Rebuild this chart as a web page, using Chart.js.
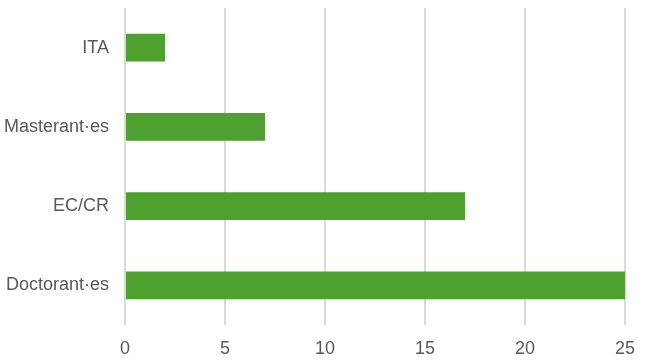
<!DOCTYPE html>
<html>
<head>
<meta charset="utf-8">
<script src="https://cdn.jsdelivr.net/npm/chart.js@4/dist/chart.umd.min.js"></script>
<style>
  html, body { margin: 0; padding: 0; background: #fff; }
  #wrap { width: 647px; height: 361px; }
</style>
</head>
<body>
<div id="wrap"><canvas id="chart"></canvas></div>
<script>
const categories = ['ITA', 'Masterant·es', 'EC/CR', 'Doctorant·es'];
const counts = [2, 7, 17, 25];
const xTicks = [0, 5, 10, 15, 20, 25];

Chart.defaults.animation = false;
Chart.defaults.font.family = '"Liberation Sans", Arial, sans-serif';
Chart.defaults.font.size = 18;
Chart.defaults.color = '#595959';

new Chart(document.getElementById('chart'), {
    type: 'bar',
    data: {
        labels: categories,
        datasets: [{
            data: counts,
            backgroundColor: '#4ea12f',
            borderWidth: 0,
            categoryPercentage: 1,
            barPercentage: 0.35
        }]
    },
    options: {
        indexAxis: 'y',
        responsive: true,
        maintainAspectRatio: false,
        layout: { padding: { top: 8, right: 22, left: 0, bottom: 0 } },
        plugins: { legend: { display: false }, tooltip: { enabled: false } },
        scales: {
            x: {
                min: 0,
                max: 25,
                afterBuildTicks: (axis) => { axis.ticks = xTicks.map(v => ({ value: v })); },
                afterFit: (axis) => { axis.height = 36; axis.paddingLeft = 0; axis.paddingRight = 0; },
                grid: { color: '#d9d9d9', lineWidth: 2, drawTicks: false },
                border: { display: false },
                ticks: { padding: 13 }
            },
            y: {
                afterFit: (axis) => { axis.width = 125; axis.paddingTop = 0; axis.paddingBottom = 0; },
                grid: { display: false },
                border: { display: false },
                ticks: { padding: 8 }
            }
        }
    }
});
</script>
</body>
</html>
